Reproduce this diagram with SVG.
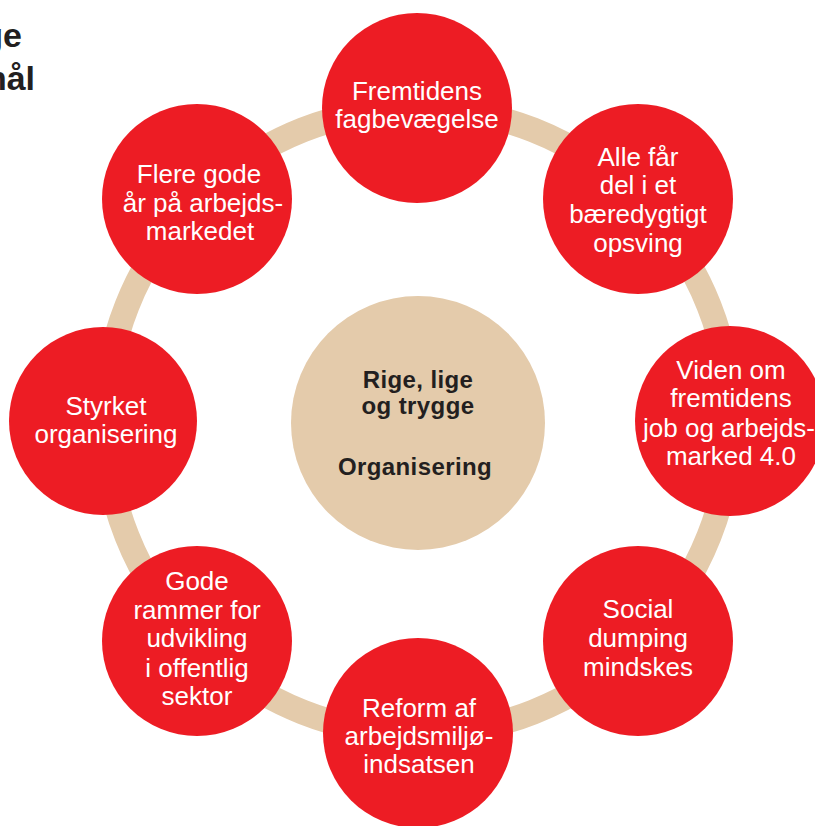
<svg xmlns="http://www.w3.org/2000/svg" width="815" height="826" viewBox="0 0 815 826">
<style>
.node{fill:#ED1C24}
.lbl{fill:#ffffff;font-family:"Liberation Sans",Arial,sans-serif;font-size:26px;text-anchor:middle}
.ctr{fill:#231F20;font-family:"Liberation Sans",Arial,sans-serif;font-size:24px;font-weight:bold;text-anchor:middle;letter-spacing:0.4px}
.ttl{fill:#231F20;font-family:"Liberation Sans",Arial,sans-serif;font-size:34px;font-weight:bold;text-anchor:end}
</style>
<rect width="815" height="826" fill="#ffffff"/>
<g id="title">
<text class="ttl" x="22" y="47">ge</text>
<text class="ttl" x="35" y="90">mål</text>
</g>
<g id="connectors">
<circle cx="418" cy="421" r="313" fill="none" stroke="#E4CBAB" stroke-width="25"/>
</g>
<g id="center">
<circle cx="418" cy="423" r="127" fill="#E4CBAB"/>
<text class="ctr" x="418" y="388">Rige, lige</text>
<text class="ctr" x="418" y="414">og trygge</text>
<text class="ctr" x="415" y="475">Organisering</text>
</g>
<g id="n1">
<circle class="node" cx="417" cy="108" r="95"/>
<text class="lbl" x="417" y="100">Fremtidens</text>
<text class="lbl" x="417" y="128">fagbevægelse</text>
</g>
<g id="n2">
<circle class="node" cx="638" cy="199" r="95"/>
<text class="lbl" x="638" y="166">Alle får</text>
<text class="lbl" x="638" y="194">del i et</text>
<text class="lbl" x="638" y="223">bæredygtigt</text>
<text class="lbl" x="638" y="252">opsving</text>
</g>
<g id="n3">
<circle class="node" cx="730" cy="421" r="95"/>
<text class="lbl" x="731" y="379">Viden om</text>
<text class="lbl" x="731" y="407">fremtidens</text>
<text class="lbl" x="729" y="437" font-size="25.5">job og arbejds-</text>
<text class="lbl" x="731" y="465">marked 4.0</text>
</g>
<g id="n4">
<circle class="node" cx="638" cy="641" r="95"/>
<text class="lbl" x="638" y="618">Social</text>
<text class="lbl" x="638" y="647">dumping</text>
<text class="lbl" x="638" y="676">mindskes</text>
</g>
<g id="n5">
<circle class="node" cx="418" cy="733" r="95"/>
<text class="lbl" x="419" y="717">Reform af</text>
<text class="lbl" x="419" y="745">arbejdsmiljø-</text>
<text class="lbl" x="419" y="773">indsatsen</text>
</g>
<g id="n6">
<circle class="node" cx="197" cy="641" r="95"/>
<text class="lbl" x="197" y="590">Gode</text>
<text class="lbl" x="197" y="619">rammer for</text>
<text class="lbl" x="197" y="647">udvikling</text>
<text class="lbl" x="197" y="677">i offentlig</text>
<text class="lbl" x="197" y="705">sektor</text>
</g>
<g id="n7">
<circle class="node" cx="103" cy="421" r="94"/>
<text class="lbl" x="106" y="415">Styrket</text>
<text class="lbl" x="106" y="443">organisering</text>
</g>
<g id="n8">
<circle class="node" cx="197" cy="199" r="95"/>
<text class="lbl" x="199" y="183">Flere gode</text>
<text class="lbl" x="203" y="212">år på arbejds-</text>
<text class="lbl" x="200" y="240">markedet</text>
</g>
</svg>
